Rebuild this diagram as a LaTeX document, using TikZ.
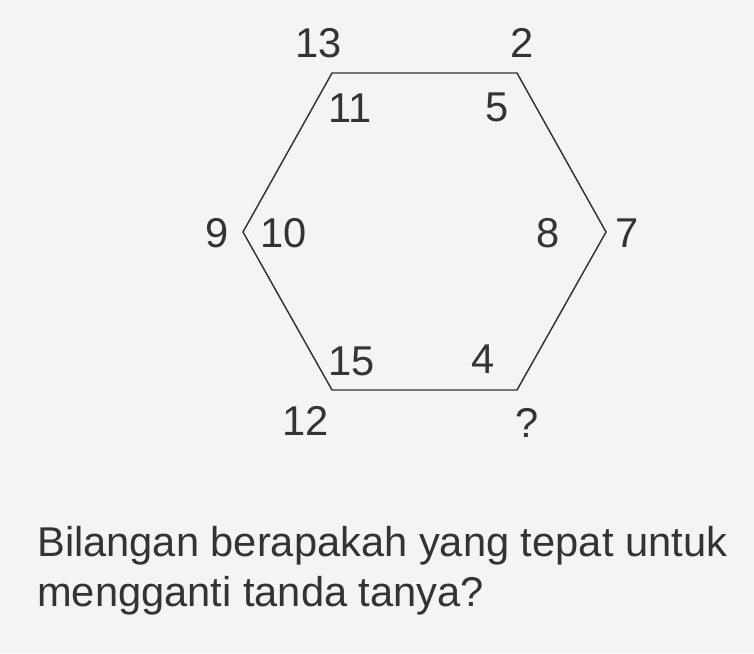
\documentclass[tikz,border=0pt]{standalone}
\usepackage{fontspec}
\setmainfont{Liberation Sans}
\usetikzlibrary{positioning}
\definecolor{ink}{HTML}{333333}
\definecolor{paper}{HTML}{F4F4F2}

\begin{document}
\begin{tikzpicture}[
    x=0.0265cm, y=-0.0265cm,
    num/.style={anchor=base, inner sep=0pt, text=ink, font=\fontsize{31.4}{38}\selectfont},
    question/.style={anchor=base west, inner sep=0pt, text=ink, font=\fontsize{31.4}{38}\selectfont},
    edge/.style={draw=ink, line width=1.1pt, line join=miter}
]

% --- Background / frame ---
\fill[paper] (0,0) rectangle (754,653);
\useasboundingbox (0,0) rectangle (754,653);

% Hexagon corners
\coordinate (h1) at (332, 73);
\coordinate (h2) at (517, 73);
\coordinate (h3) at (606, 232);
\coordinate (h4) at (517, 390);
\coordinate (h5) at (332, 390);
\coordinate (h6) at (243, 232);

\draw[edge] (h1) -- (h2) -- (h3) -- (h4) -- (h5) -- (h6) -- cycle;

% Outer numbers
\node[num] (o1) at (319, 58) {13};
\node[num] (o2) at (522, 58) {2};
\node[num] (o3) at (627, 247) {7};
\node[num] (o4) at (527, 437) {?};
\node[num] (o5) at (306, 435) {12};
\node[num] (o6) at (217, 247) {9};

% Inner numbers
\node[num] (i1) at (350, 122) {11};
\node[num] (i2) at (497, 121) {5};
\node[num] (i3) at (548, 247) {8};
\node[num] (i4) at (483, 373) {4};
\node[num] (i5) at (352, 375) {15};
\node[num] (i6) at (284, 247) {10};

% Question text
\node[question] (q1) at (37, 556) {Bilangan berapakah yang tepat untuk};
\node[question] (q2) at (37, 606) {mengganti tanda tanya?};

\end{tikzpicture}
\end{document}
